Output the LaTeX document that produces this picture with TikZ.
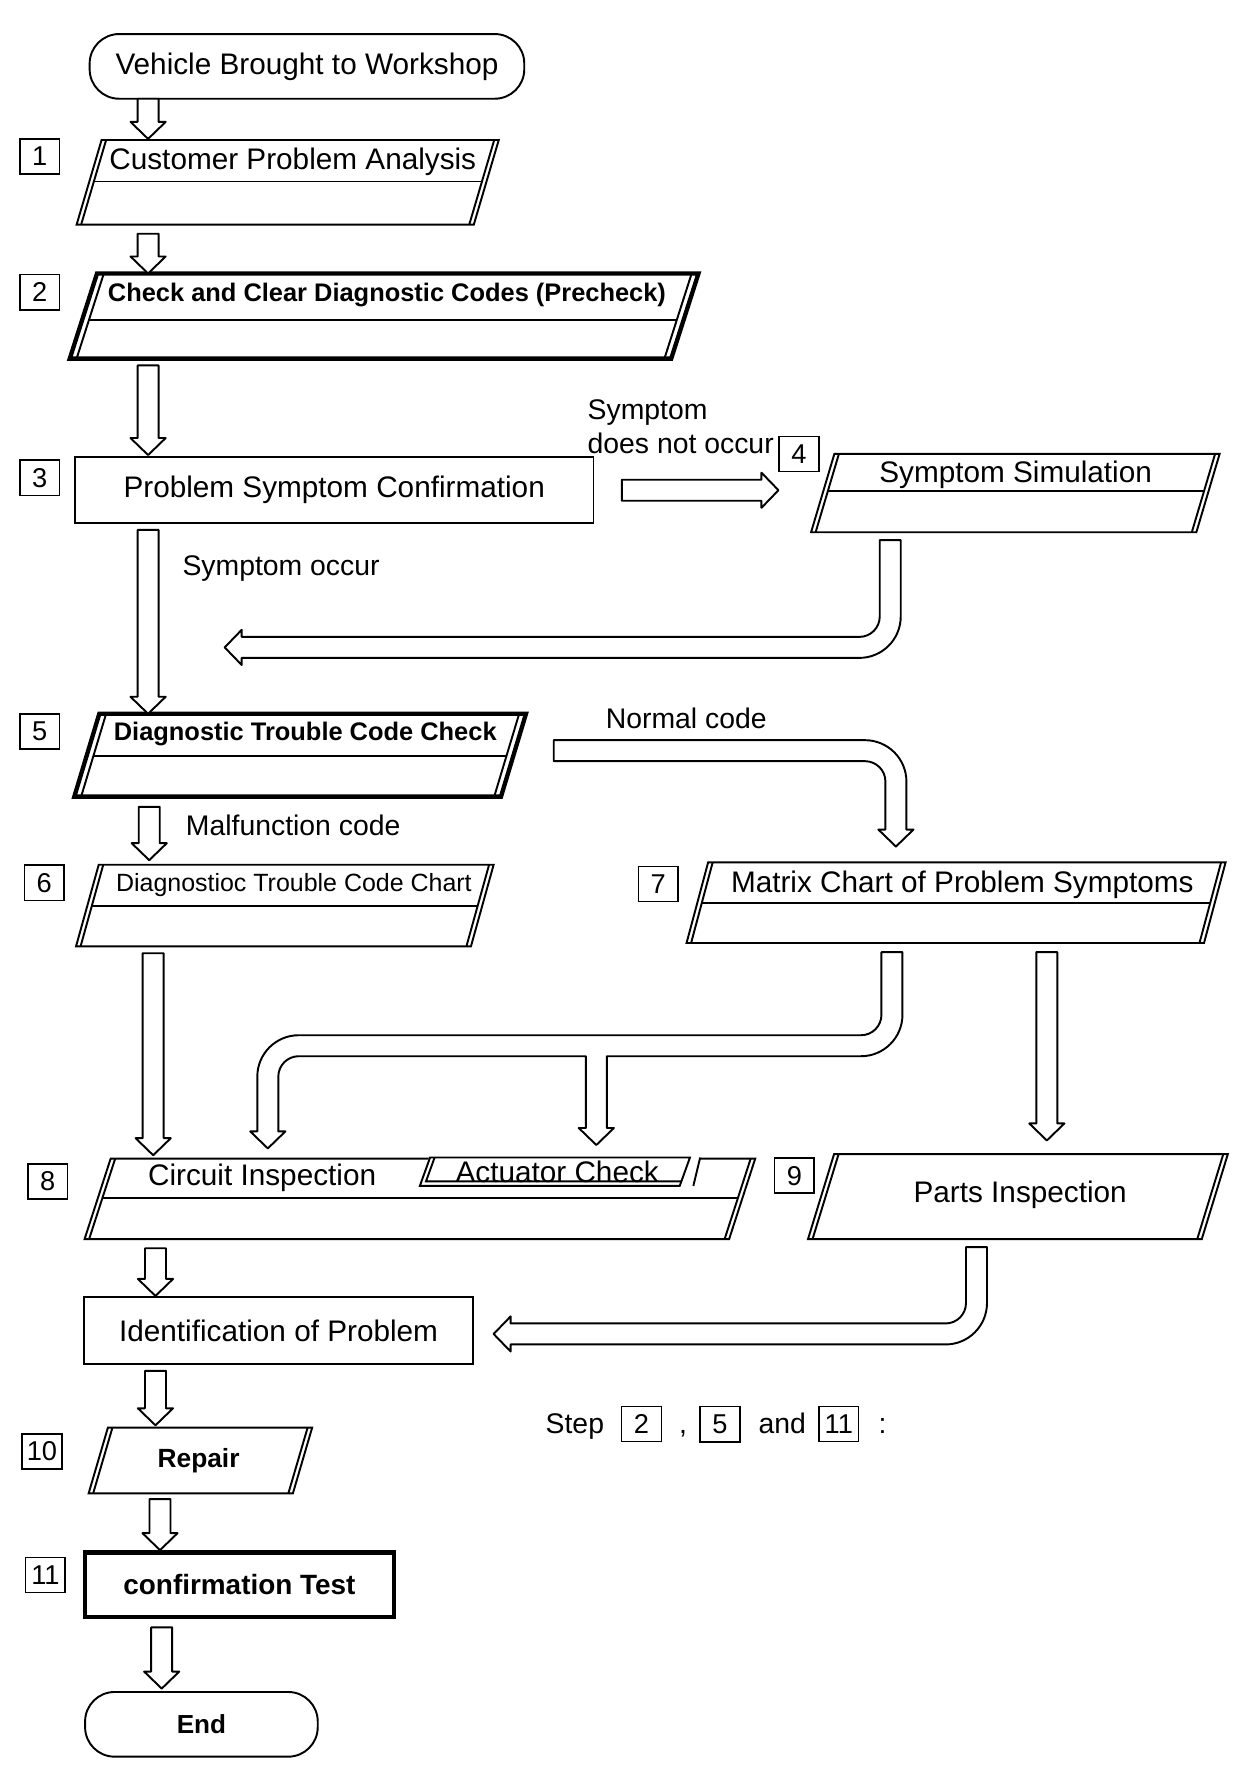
\documentclass[tikz,border=0pt]{standalone}
\usepackage{fontspec}
\setmainfont{Liberation Sans}
\usepackage{tikz}
\usetikzlibrary{calc, positioning}
% sizes of the hollow block arrows (picture units)
\newcommand{\shaftw}{9.25}
\newcommand{\headw}{15.5}
\newcommand{\headl}{15}
\newcommand{\bendout}{36.5}
\newcommand{\bendin}{18}
\newcommand{\bendoutr}{18.25pt}
\newcommand{\bendinr}{9pt}
\tikzset{
    boxarea/.style = {inner sep=0pt, outer sep=0pt},
    thick border/.style = {line width=1.9pt},
    maintext/.style = {font=\fontsize{13.1}{15.7}\selectfont, inner sep=0pt},
    boldtext/.style = {font=\fontsize{11.2}{13.4}\selectfont\bfseries, inner sep=0pt},
    heavytext/.style = {font=\fontsize{12.3}{14.8}\selectfont\bfseries, inner sep=0pt},
    smalltext/.style = {font=\fontsize{11}{13.2}\selectfont, inner sep=0pt},
    note/.style = {font=\fontsize{12.5}{15}\selectfont, inner sep=0pt},
    terminal/.style = {draw, rounded corners=13pt, boxarea},
    numbox/.style = {draw, line width=0.7pt, minimum width=17.5pt, minimum height=15.5pt, inner sep=0pt, font=\fontsize{12}{14}\selectfont},
    hollow/.style = {draw, fill=white, line join=round}
}
% slanted box with double sides round a node
\newcommand{\slantbox}[4][]{%
    \draw[#1] ($(#2.north west)+(#3,0)$) -- ($(#2.north east)+(#3,0)$)
        -- ($(#2.south east)+(-#3,0)$) -- ($(#2.south west)+(-#3,0)$) -- cycle;
    \draw ($(#2.north west)+(#3+#4,0)$) -- ($(#2.south west)+(-#3+#4,0)$)
        ($(#2.north east)+(#3-#4,0)$) -- ($(#2.south east)+(-#3-#4,0)$);
}
% line under the title band of a slanted box
\newcommand{\bandline}[4]{%
    \draw ($(#1.north west)!#4!(#1.south west)+({#2+#3-2*#2*#4},0)$)
        -- ($(#1.north east)!#4!(#1.south east)+({#2-#3-2*#2*#4},0)$);
}
% hollow arrow pointing down
\newcommand{\vblock}[2]{%
    \draw[hollow] ($(#1)+(-\shaftw,0)$) -- ($(#1)+(\shaftw,0)$) -- ($(#2)+(\shaftw,\headl)$)
        -- ($(#2)+(\headw,\headl)$) -- (#2) -- ($(#2)+(-\headw,\headl)$) -- ($(#2)+(-\shaftw,\headl)$) -- cycle;
}
% hollow arrow pointing right
\newcommand{\hblock}[2]{%
    \draw[hollow] ($(#1)+(0,\shaftw)$) -- ($(#2)+(-\headl,\shaftw)$) -- ($(#2)+(-\headl,\headw)$) -- (#2)
        -- ($(#2)+(-\headl,-\headw)$) -- ($(#2)+(-\headl,-\shaftw)$) -- ($(#1)+(0,-\shaftw)$) -- cycle;
}
% hollow arrow going down, then bending to the left
\newcommand{\downleft}[3]{%
    \draw[hollow] ($(#1)+(-\shaftw,0)$) -- ($(#1)+(\shaftw,0)$)
        -- ($(#2)+(\shaftw,-\shaftw+\bendout)$) arc[start angle=0, end angle=-90, radius=\bendoutr]
        -- ($(#3)+(\headl,-\shaftw)$) -- ($(#3)+(\headl,-\headw)$) -- (#3)
        -- ($(#3)+(\headl,\headw)$) -- ($(#3)+(\headl,\shaftw)$)
        -- ($(#2)+(-\shaftw-\bendin,\shaftw)$) arc[start angle=270, end angle=360, radius=\bendinr]
        -- cycle;
}

\begin{document}
\begin{tikzpicture}[x=0.5pt, y=0.5pt, line width=0.85pt]
        \useasboundingbox (0,0) rectangle (1100,-1558);
        % start and end
        \node[terminal, maintext, minimum width=191.5pt, minimum height=28.5pt] (vehicle) at (270.5,-58.5) {Vehicle Brought to Workshop};
        \node[terminal, font=\fontsize{11.5}{13.8}\selectfont\bfseries, minimum width=102.5pt, minimum height=28.5pt] (finish) at (177.5,-1519.5) {End};
        % step boxes
        \node[boxarea, minimum width=175pt, minimum height=37.3pt] (analysis) at (253.5,-160.7) {};
        \slantbox{analysis}{11}{4}
        \bandline{analysis}{11}{4}{0.49}
        \node[maintext] (analysistext) at (258,-143) {Customer Problem Analysis};

        \node[boxarea, minimum width=265pt, minimum height=37.5pt] (precheck) at (338.5,-278.5) {};
        \slantbox[thick border]{precheck}{12}{6}
        \bandline{precheck}{12}{6}{0.547}
        \node[boldtext] (prechecktext) at (341,-260) {Check and Clear Diagnostic Codes (Precheck)};

        \node[boxarea, draw, maintext, minimum width=228.5pt, minimum height=29pt] (confirm) at (294.5,-432) {Problem Symptom Confirmation};

        \node[boxarea, minimum width=169.75pt, minimum height=34.5pt] (simulation) at (894.75,-434.5) {};
        \slantbox{simulation}{10.25}{4}
        \bandline{simulation}{10.25}{4}{0.478}
        \node[maintext] (simulationtext) at (895,-418) {Symptom Simulation};

        \node[boxarea, minimum width=188pt, minimum height=36.5pt] (dtccheck) at (264.5,-665.5) {};
        \slantbox[thick border]{dtccheck}{11}{6}
        \bandline{dtccheck}{11}{6}{0.507}
        \node[boldtext] (dtcchecktext) at (269,-647) {Diagnostic Trouble Code Check};

        \node[boxarea, minimum width=174pt, minimum height=36pt] (dtcchart) at (251,-798) {};
        \slantbox{dtcchart}{10}{4}
        \bandline{dtcchart}{10}{4}{0.5}
        \node[smalltext] (dtcchartext) at (259,-780) {Diagnostioc Trouble Code Chart};

        \node[boxarea, minimum width=228pt, minimum height=35.5pt] (symptomchart) at (842.5,-795.5) {};
        \slantbox{symptomchart}{9.5}{4}
        \bandline{symptomchart}{9.5}{4}{0.507}
        \node[maintext] (symptomcharttext) at (848,-780) {Matrix Chart of Problem Symptoms};

        \node[boxarea, minimum width=284pt, minimum height=35.5pt] (circuit) at (370,-1056.5) {};
        \slantbox{circuit}{11.5}{4}
        \bandline{circuit}{11.5}{4}{0.49}
        \node[maintext] (circuittext) at (231,-1038) {Circuit Inspection};
        % actuator check sits in the top band of circuit inspection
        \node[boxarea, minimum width=114.5pt, minimum height=12.5pt] (actuator) at (489,-1032.5) {};
        \fill[white] ($(actuator.north west)+(4.5,3)$) -- ($(actuator.north east)+(14.5,3)$) -- ($(actuator.south east)+(7.5,0)$) -- ($(actuator.south west)+(-4.5,0)$) -- cycle;
        \draw ($(actuator.north west)+(4.5,0)$) -- ($(actuator.north east)+(4.5,0)$) -- ($(actuator.south east)+(-4.5,0)$) -- ($(actuator.south west)+(-4.5,0)$) -- cycle;
        \draw ($(actuator.north west)+(8.5,0)$) -- ($(actuator.south west)+(0.9,4)$) -- ($(actuator.south east)+(-3.1,4)$);
        \draw ($(actuator.north east)+(13.5,0)$) -- ($(actuator.south east)+(7.5,0)$);
        \node[maintext] (actuatortext) at (491,-1033) {Actuator Check};

        \node[boxarea, minimum width=173.5pt, minimum height=37.5pt] (parts) at (897,-1054.5) {};
        \slantbox{parts}{11.5}{4}
        \node[maintext] (partstext) at (899,-1053) {Parts Inspection};

        \node[boxarea, draw, maintext, minimum width=171.5pt, minimum height=29.5pt] (identify) at (245.5,-1172.5) {Identification of Problem};

        \node[boxarea, minimum width=90pt, minimum height=29pt] (repair) at (176.6,-1287) {};
        \slantbox{repair}{8.5}{4}
        \node[boldtext, font=\fontsize{11.6}{13.9}\selectfont\bfseries] (repairtext) at (175,-1287) {Repair};

        \node[boxarea, draw, thick border, heavytext, minimum width=136pt, minimum height=28.5pt] (test) at (211,-1396.5) {confirmation Test};
        % step numbers
        \foreach \n/\px/\py in {1/35/138, 2/35/257.5, 3/35/421, 4/704/400, 5/35/644.5, 6/39/778, 7/580/779, 8/42/1041, 9/700/1036, 10/37/1279, 11/40/1388}{
            \node[numbox] (step\n) at (\px,-\py) {\n};
        }
        % branch texts
        \node[note, anchor=west] (occur) at (160,-501) {Symptom occur};
        \node[note, anchor=west, align=left] (nooccur) at (517,-376) {Symptom\\does not occur};
        \node[note, anchor=west] (normal) at (533,-633) {Normal code};
        \node[note, anchor=west] (malfunction) at (163,-727) {Malfunction code};
        % legend
        \node[note, anchor=west] (legend) at (480,-1257) {Step};
        \node[numbox, base right=7pt of legend] (legendtwo) {2};
        \node[note, base right=7pt of legendtwo] (legendcomma) {,};
        \node[numbox, base right=5pt of legendcomma] (legendfive) {5};
        \node[note, base right=7.5pt of legendfive] (legendand) {and};
        \node[numbox, base right=5pt of legendand] (legendeleven) {11};
        \node[note, base right=8pt of legendeleven] (legendcolon) {:};
        % straight arrows down the flow
        \foreach \src/\dst/\ax/\tgap/\hgap in {vehicle/analysis/130.5/0/1, analysis/precheck/130.5/8/0, precheck/confirm/130.5/6/2, confirm/dtccheck/130.5/6/0, dtccheck/dtcchart/131.5/9/4, dtcchart/circuit/135/6/3, symptomchart/parts/922.5/8/12, circuit/identify/137/8/1, identify/repair/137/6/2, repair/test/141/5/2, test/finish/142.5/9/3}{
            \coordinate (tail) at ($(\src.south -| \ax,0)+(0,-\tgap)$);
            \coordinate (tip) at ($(\dst.north -| \ax,0)+(0,\hgap)$);
            \vblock{tail}{tip}
        }
        % symptom does not occur
        \coordinate (nooccurtail) at ($(confirm.east)+(25,0)$);
        \coordinate (nooccurtip) at ($(confirm.east)+(163,0)$);
        \hblock{nooccurtail}{nooccurtip}
        % back from symptom simulation
        \coordinate (simtail) at ($(simulation.south -| 784.5,0)+(0,-7)$);
        \coordinate (simbend) at (784.5,-570.5);
        \coordinate (simtip) at (198,-570.5);
        \downleft{simtail}{simbend}{simtip}
        % normal code
        \coordinate (normaltail) at ($(dtccheck.east)+(35.5,4)$);
        \coordinate (normalbend) at (789.5,-661.5);
        \coordinate (normaltip) at ($(symptomchart.north -| 789.5,0)+(0,14)$);
        \draw[hollow] ($(normaltail)+(0,\shaftw)$) -- ($(normalbend)+(\shaftw-\bendout,\shaftw)$) arc[start angle=90, end angle=0, radius=\bendoutr]
            -- ($(normaltip)+(\shaftw,\headl)$) -- ($(normaltip)+(\headw,\headl)$) -- (normaltip) -- ($(normaltip)+(-\headw,\headl)$) -- ($(normaltip)+(-\shaftw,\headl)$)
            -- ($(normalbend)+(-\shaftw,-\shaftw-\bendin)$) arc[start angle=0, end angle=90, radius=\bendinr]
            -- ($(normaltail)+(0,-\shaftw)$) -- cycle;
        % matrix chart to circuit inspection and actuator check
        \coordinate (chartail) at ($(symptomchart.south -| 786,0)+(0,-8)$);
        \coordinate (charbend) at (786,-921.5);
        \coordinate (circbend) at (236,-921.5);
        \coordinate (circtip) at ($(circuit.north -| 236,0)+(0,9)$);
        \coordinate (acttip) at ($(actuator.north -| 525.5,0)+(0,11)$);
        \draw[hollow] ($(chartail)+(-\shaftw,0)$) -- ($(chartail)+(\shaftw,0)$)
            -- ($(charbend)+(\shaftw,-\shaftw+\bendout)$) arc[start angle=0, end angle=-90, radius=\bendoutr]
            -- ($(acttip |- charbend)+(\shaftw,-\shaftw)$) -- ($(acttip)+(\shaftw,\headl)$) -- ($(acttip)+(\headw,\headl)$) -- (acttip)
            -- ($(acttip)+(-\headw,\headl)$) -- ($(acttip)+(-\shaftw,\headl)$) -- ($(acttip |- charbend)+(-\shaftw,-\shaftw)$)
            -- ($(circbend)+(\shaftw+\bendin,-\shaftw)$) arc[start angle=90, end angle=180, radius=\bendinr]
            -- ($(circtip)+(\shaftw,\headl)$) -- ($(circtip)+(\headw,\headl)$) -- (circtip) -- ($(circtip)+(-\headw,\headl)$) -- ($(circtip)+(-\shaftw,\headl)$)
            -- ($(circbend)+(-\shaftw,\shaftw-\bendout)$) arc[start angle=180, end angle=90, radius=\bendoutr]
            -- ($(charbend)+(-\shaftw-\bendin,\shaftw)$) arc[start angle=270, end angle=360, radius=\bendinr]
            -- cycle;
        % parts inspection to identification
        \coordinate (partstail) at ($(parts.south -| 860.5,0)+(0,-7)$);
        \coordinate (partsbend) at (860.5,-1175.5);
        \coordinate (partstip) at ($(identify.east)+(18,-3)$);
        \downleft{partstail}{partsbend}{partstip}
\end{tikzpicture}
\end{document}
